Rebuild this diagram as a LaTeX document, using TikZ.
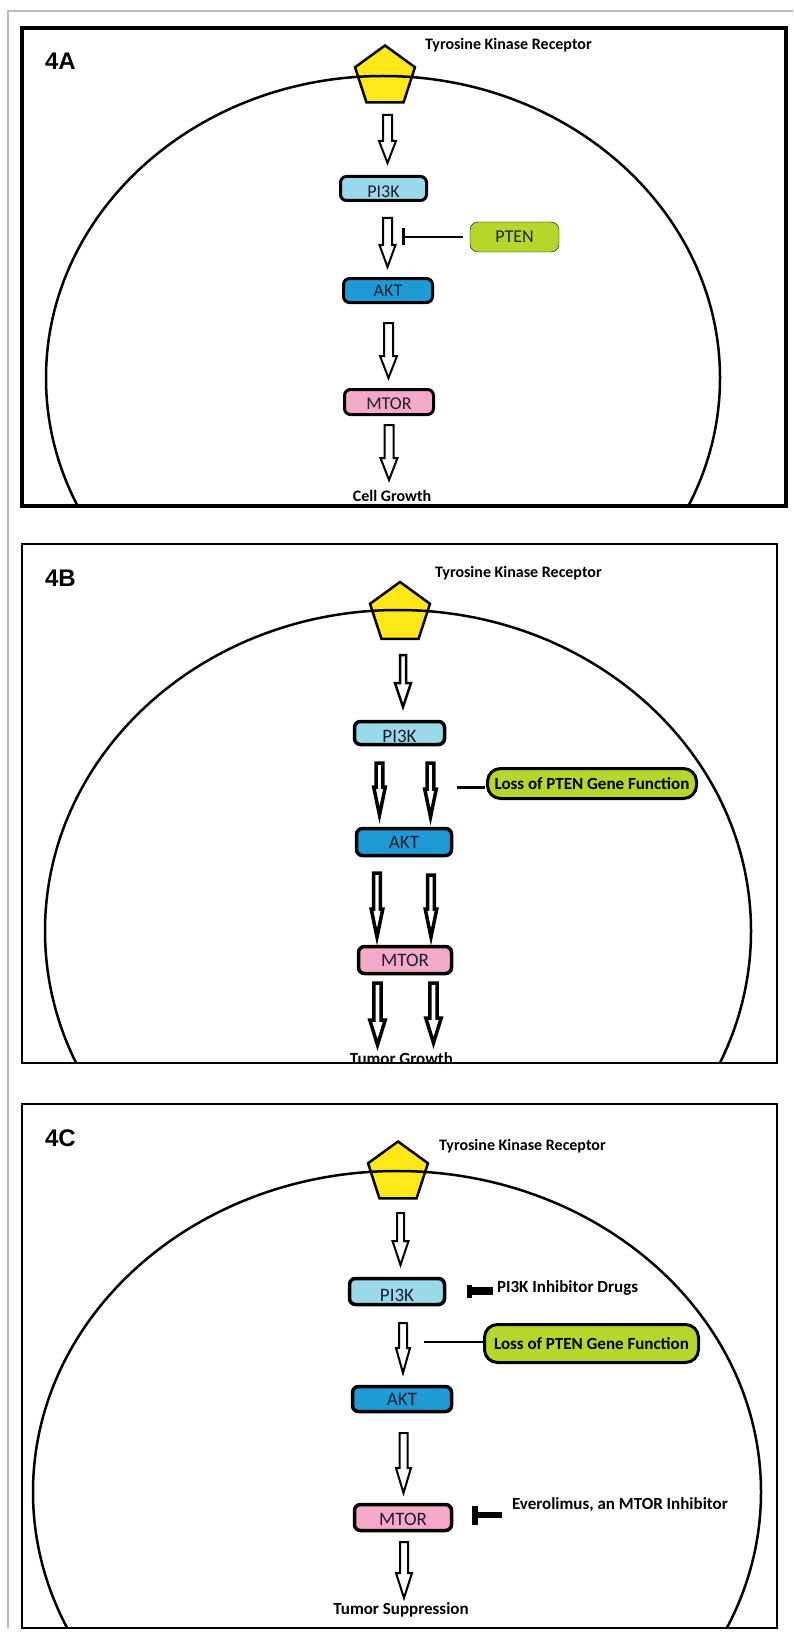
\documentclass[tikz,border=0pt]{standalone}
\usepackage{fontspec}
\setmainfont{Carlito}
\newfontfamily\panelfont{Liberation Sans}
\usetikzlibrary{shapes.geometric,calc,arrows.meta}

\definecolor{recyellow}{HTML}{FFE817}
\definecolor{pikblue}{HTML}{99D9EA}
\definecolor{aktblue}{HTML}{1E9BD7}
\definecolor{mtorpink}{HTML}{F5A9C8}
\definecolor{ptenlime}{HTML}{B5D62B}
\definecolor{edgegrey}{HTML}{BBBBBB}
\definecolor{boxtext}{HTML}{1E1E28}

\newcommand{\fsz}[1]{\fontsize{#1}{#1}\selectfont}

\begin{document}
\begin{tikzpicture}[x=1pt,y=-1pt,
  frame/.style={draw=black},
  cell/.style={draw=black, line width=2.5pt},
  receptor/.style={regular polygon, regular polygon sides=5, minimum size=63pt,
    draw=black, fill=recyellow, line width=2.5pt, inner sep=0pt, outer sep=0pt},
  box/.style={draw=black, rounded corners=6pt, inner sep=0pt, outer sep=0pt,
    text=boxtext},
  lossbox/.style={draw=black, fill=ptenlime, line width=3pt, rounded corners=13pt,
    inner sep=0pt, outer sep=0pt, font=\bfseries\fsz{17}},
  lbl/.style={inner sep=0pt, outer sep=0pt, font=\bfseries\fsz{17}},
  tkr/.style={inner sep=0pt, outer sep=0pt, font=\bfseries\fsz{16}, anchor=west},
  panel/.style={inner sep=0pt, outer sep=0pt, font=\panelfont\bfseries\fsz{24}, anchor=base west},
  blkarrow/.style n args={4}{draw=black, fill=white, line width=#4pt, miter limit=20,
    to path={let \p1=(\tikztostart), \p2=(\tikztotarget) in
      (\x1-#1pt,\y1) -- (\x1+#1pt,\y1) -- (\x1+#1pt,\y2+#3pt) -- (\x1+#2pt,\y2+#3pt)
      -- (\x1,\y2) -- (\x1-#2pt,\y2+#3pt) -- (\x1-#1pt,\y2+#3pt) -- cycle}},
  pline/.style={draw=black, line width=3pt},
]
\useasboundingbox (0,0) rectangle (793,1637);

% outer page edge
\draw[edgegrey, line width=1.5pt] (8,1628) -- (8,11) -- (793,11);

% ================= panel 4A =================
\node[receptor] (recA) at (385,77) {};
\begin{scope}
  \clip (22,28) rectangle (786,506);
  \draw[cell] (383,378) ellipse [x radius=337, y radius=302];
\end{scope}
\draw[frame, line width=3.5pt] (22,28) rectangle (786,506);
\node[panel] (labA) at (45,70) {4A};
\node[tkr] (tyrA) at (425,45) {Tyrosine Kinase Receptor};

\node[box, line width=3pt, fill=pikblue, minimum width=86pt, minimum height=24pt, text height=18.5pt, font=\fsz{18}] (pikA) at (383.5,188.5) {PI3K};
\node[box, line width=3pt, fill=aktblue, minimum width=89pt, minimum height=24pt, font=\fsz{18}] (aktA) at (388,290.5) {AKT};
\node[box, line width=3pt, fill=mtorpink, minimum width=89pt, minimum height=25pt, text height=15pt, font=\fsz{18}] (mtorA) at (389,402) {MTOR};
\node[box, fill=ptenlime, rounded corners=8pt, minimum width=89pt, minimum height=30pt, font=\fsz{18}] (ptenA) at (514.5,237) {PTEN};
\node[lbl, font=\bfseries\fsz{16}] (growA) at (392,496) {Cell Growth};

\coordinate (a1s) at ([xshift=2.5pt,yshift=-38pt]recA.center);
\coordinate (a1e) at ([yshift=25.5pt]pikA.center);
\coordinate (a2s) at ([xshift=4pt,yshift=-29.5pt]pikA.center);
\coordinate (a2e) at ([yshift=23.5pt]aktA.center);
\coordinate (a3s) at ([xshift=0.5pt,yshift=-32.5pt]aktA.center);
\coordinate (a3e) at ([yshift=24pt]mtorA.center);
\coordinate (a4s) at ([yshift=-23pt]mtorA.center);
\coordinate (a4e) at ([yshift=16pt]growA.center);
\draw[blkarrow={4.5}{8.5}{22}{2}] (a1s) to (a1e);
\draw[blkarrow={4.5}{8}{22}{2}] (a2s) to (a2e);
\draw[blkarrow={4.5}{8.5}{22}{2}] (a3s) to (a3e);
\draw[blkarrow={4.5}{8.5}{22}{2}] (a4s) to (a4e);
\draw[line width=2.5pt, -{Bar[width=17pt,line width=3pt]}, shorten <=7pt]
  (ptenA.west) -- ([xshift=-68pt]ptenA.west);

% ================= panel 4B =================
\node[receptor] (recB) at (400,613.5) {};
\begin{scope}
  \clip (22,544) rectangle (777,1063);
  \draw[cell] (398,931) ellipse [x radius=353, y radius=321];
\end{scope}
\draw[frame, line width=2.5pt] (22,544) rectangle (777,1063);
\node[panel] (labB) at (45,586) {4B};
\node[tkr] (tyrB) at (435,573) {Tyrosine Kinase Receptor};

\node[box, line width=3.5pt, fill=pikblue, minimum width=90pt, minimum height=23pt, text height=20pt, font=\fsz{19}] (pikB) at (399.5,733) {PI3K};
\node[box, line width=3.5pt, fill=aktblue, minimum width=95pt, minimum height=27pt, font=\fsz{19}] (aktB) at (404,842) {AKT};
\node[box, line width=3.5pt, fill=mtorpink, minimum width=93pt, minimum height=27pt, font=\fsz{19}] (mtorB) at (405,960) {MTOR};
\node[lossbox, minimum width=209pt, minimum height=30pt] (lossB) at (592,783.5) {Loss of PTEN Gene Function};
\node[lbl] (growB) at (401.5,1059) {Tumor Growth};

\coordinate (b1s) at ([xshift=3pt,yshift=-41.5pt]recB.center);
\coordinate (b1e) at ([yshift=26pt]pikB.center);
\coordinate (b2ls) at ([xshift=-20pt,yshift=-30pt]pikB.center);
\coordinate (b2le) at ([yshift=27pt]aktB.center);
\coordinate (b2rs) at ([xshift=31pt,yshift=-30pt]pikB.center);
\coordinate (b2re) at ([yshift=25pt]aktB.center);
\coordinate (b3ls) at ([xshift=-27pt,yshift=-31pt]aktB.center);
\coordinate (b3le) at ([yshift=23pt]mtorB.center);
\coordinate (b3rs) at ([xshift=27pt,yshift=-33pt]aktB.center);
\coordinate (b3re) at ([yshift=23pt]mtorB.center);
\coordinate (b4ls) at ([xshift=-27.5pt,yshift=-23pt]mtorB.center);
\coordinate (b4le) at ([yshift=14pt]growB.center);
\coordinate (b4rs) at ([xshift=28.5pt,yshift=-23pt]mtorB.center);
\coordinate (b4re) at ([yshift=16pt]growB.center);
\draw[blkarrow={3}{8}{24}{2.5}] (b1s) to (b1e);
\draw[blkarrow={3.3}{5.8}{28}{3.5}] (b2ls) to (b2le);
\draw[blkarrow={3.3}{5.8}{28}{3.5}] (b2rs) to (b2re);
\draw[blkarrow={3.3}{5.8}{28}{3.5}] (b3ls) to (b3le);
\draw[blkarrow={3.3}{5.8}{28}{3.5}] (b3rs) to (b3re);
\draw[blkarrow={3.7}{7.7}{25}{3.5}] (b4ls) to (b4le);
\draw[blkarrow={3.7}{7.7}{25}{3.5}] (b4rs) to (b4re);
\draw[pline] ([xshift=-3pt,yshift=-3.5pt]lossB.west) -- ([xshift=-31pt,yshift=-3.5pt]lossB.west);

% ================= panel 4C =================
\node[receptor] (recC) at (398,1173) {};
\begin{scope}
  \clip (22,1104) rectangle (777,1628);
  \draw[cell] (397,1492) ellipse [x radius=364, y radius=321];
\end{scope}
\draw[frame, line width=2.5pt] (22,1104) rectangle (777,1628);
\node[panel] (labC) at (45,1146) {4C};
\node[tkr] (tyrC) at (439,1146) {Tyrosine Kinase Receptor};

\node[box, line width=3.5pt, fill=pikblue, minimum width=95pt, minimum height=26pt, text height=20pt, font=\fsz{19}] (pikC) at (397,1291.5) {PI3K};
\node[box, line width=3.5pt, fill=aktblue, minimum width=99pt, minimum height=25pt, font=\fsz{19}] (aktC) at (402,1399) {AKT};
\node[box, line width=3.5pt, fill=mtorpink, minimum width=97pt, minimum height=26pt, text height=17pt, font=\fsz{19}] (mtorC) at (403,1517.5) {MTOR};
\node[lossbox, minimum width=214pt, minimum height=38pt] (lossC) at (591.5,1343.5) {Loss of PTEN Gene Function};
\node[lbl, anchor=west] (drugC) at (497,1288) {PI3K Inhibitor Drugs};
\node[lbl, anchor=west] (everC) at (512,1505) {Everolimus, an MTOR Inhibitor};
\node[lbl] (suppC) at (401,1610) {Tumor Suppression};

\coordinate (c1s) at ([xshift=2.5pt,yshift=-40pt]recC.center);
\coordinate (c1e) at ([yshift=26.5pt]pikC.center);
\coordinate (c2s) at ([xshift=6pt,yshift=-31.5pt]pikC.center);
\coordinate (c2e) at ([yshift=26pt]aktC.center);
\coordinate (c3s) at ([xshift=1.5pt,yshift=-34pt]aktC.center);
\coordinate (c3e) at ([yshift=24.5pt]mtorC.center);
\coordinate (c4s) at ([xshift=1pt,yshift=-24.5pt]mtorC.center);
\coordinate (c4e) at ([yshift=12pt]suppC.center);
\draw[blkarrow={3.5}{8}{24}{2}] (c1s) to (c1e);
\draw[blkarrow={4}{7}{25}{2}] (c2s) to (c2e);
\draw[blkarrow={4}{7.5}{25}{2}] (c3s) to (c3e);
\draw[blkarrow={4}{8}{25}{2}] (c4s) to (c4e);
\draw[pline, line width=2.5pt] ([xshift=-1pt,yshift=1.5pt]lossC.west) -- ([xshift=-61pt,yshift=1.5pt]lossC.west);
\draw[line width=8pt, -{Rectangle[length=5pt,width=13pt]}]
  ([xshift=-4pt,yshift=-3pt]drugC.west) -- ([xshift=-30pt,yshift=-3pt]drugC.west);
\draw[line width=6pt, -{Rectangle[length=6pt,width=19pt]}]
  ([xshift=-10pt,yshift=-10pt]everC.west) -- ([xshift=-40pt,yshift=-10pt]everC.west);
\end{tikzpicture}
\end{document}
